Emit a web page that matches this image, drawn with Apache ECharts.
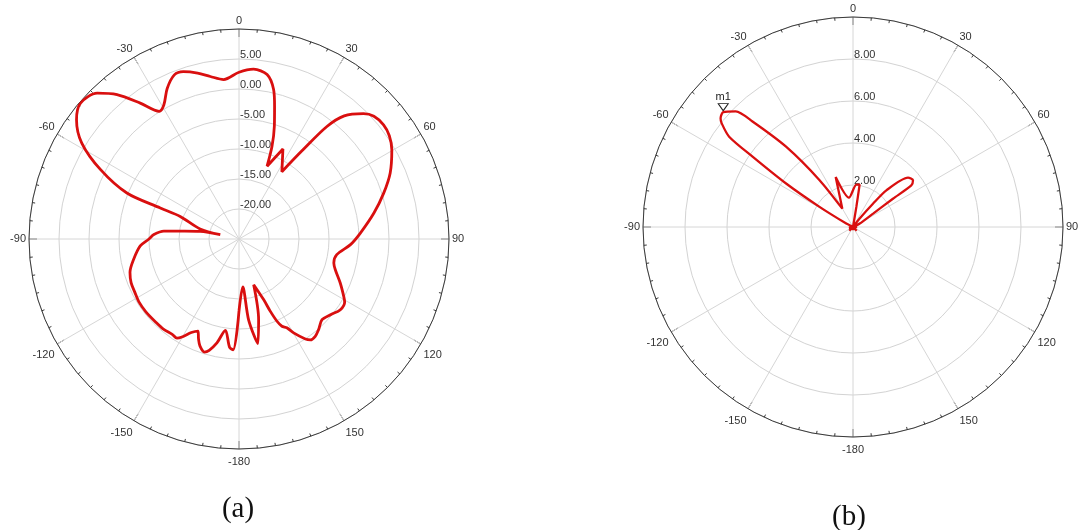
<!DOCTYPE html>
<html><head><meta charset="utf-8">
<script src="https://cdn.jsdelivr.net/npm/echarts@6/dist/echarts.min.js"></script>
<style>html,body{margin:0;padding:0;background:#fff}#c{width:1079px;height:530px}</style>
</head><body><div id="c"></div>
<script>
// ---- data (angles in degrees, clockwise from top; values in dB) ----
const anglesA = [-180,-177,-175,-171.5,-168,-165,-163,-160,-158,-156,-153,-150,-148,-145,-140,-135,-128,-122,-117,-112,-107,-101,-94,-90,-87,-84,-82.5,-79,-77,-75.5,-69,-68.5,-67.7,-63.4,-58.6,-53.7,-49.4,-44.2,-40.2,-36,-32,-29.3,-25.5,-21.5,-18.4,-14,-10,-5.5,0,4.9,9.7,13,15,17.4,19.6,21.1,26,32.5,35.5,38,40.5,44.8,47.7,51.7,55.5,59.7,66.4,72.4,79.1,87.2,92.9,99.1,104.2,107.7,113.5,118.7,120.8,124.9,129.6,134.2,138.7,141.9,144.7,146.4,149.8,151.7,153.8,155.2,156.6,157.9,162.2,166.3,169.8,173.2,175.5,180];
const gainA   = [-13.0,-6.5,-6.9,-9.6,-7.3,-5.8,-5.3,-6.0,-7.0,-8.2,-7.5,-6.2,-5.5,-5.6,-5.4,-5.4,-5.3,-5.3,-5.5,-5.6,-6.0,-7.1,-8.5,-10.0,-10.8,-12.4,-15.0,-18.4,-21.8,-18.3,-14.5,-10.9,-4.8,0.8,5.7,8.6,9.8,8.9,6.5,3.0,0.1,0.6,2.8,4.4,4.4,3.5,2.5,1.7,2.8,3.4,2.8,0.6,-2.1,-5.3,-8.6,-12.0,-8.3,-11.7,-7.0,-1.2,2.0,4.45,5.4,5.7,5.4,4.5,2.5,0.3,-2.1,-4.75,-6.4,-8.5,-8.7,-8.15,-6.6,-5.1,-4.5,-4.4,-5.2,-5.7,-4.9,-4.4,-4.4,-5.0,-6.9,-8.2,-8.8,-9.9,-11.9,-14.1,-17.0,-11.2,-7.3,-11.4,-17.0,-13.0];

const anglesB = [-180,-150,-135,-120,-100,-90,-75,-63,-59,-57,-55,-53.9,-51.7,-50.6,-48.5,-45.4,-43.6,-39.8,-35.5,-30.2,-19.1,-7.8,4.5,8.9,9.5,12,25,38,40.6,42.3,48.1,52.1,54.5,54.7,56.3,63,75,90,110,135,160,180];
const gainB   = [0.15,0,0.25,0,0.2,0,0,0.36,1.86,3.8,5.84,7.3,7.97,8.16,8.25,7.84,6.94,4.98,2.74,1.01,2.52,1.41,2.02,2.04,0.97,0,0,0.5,1.46,2.36,3.52,3.62,3.41,2.33,1.15,0.36,0,0.2,0,0.25,0,0.15];

const radiusTicksA = [-25,-20,-15,-10,-5,0,5,10];
const radiusTicksB = [0,2,4,6,8,10];
const angleTickStep = 30;
const markerB = { name: 'm1', angle: -48.5, value: 8.25 };
const captions = ['(a)', '(b)'];

// ---- build ----
const toAxisAngle = a => (a < 0 ? a + 360 : a);
const FONT = "'Liberation Sans', Arial, sans-serif";
const RED = '#d90f0f';

function angleAxis(idx) {
  return {
    polarIndex: idx, type: 'value', min: 0, max: 360, interval: angleTickStep,
    startAngle: 90, clockwise: true,
    axisLine: { show: true, lineStyle: { color: '#3a3a3a', width: 1 } },
    axisTick: { show: true, inside: true, length: 8, lineStyle: { color: '#3a3a3a' } },
    minorTick: { show: true, splitNumber: 6, length: 3, lineStyle: { color: '#3a3a3a' } },
    splitLine: { show: true, lineStyle: { color: '#d6d6d6', width: 1 } },
    axisLabel: {
      show: true, margin: 3, padding: [4, 0, 0, 0], fontSize: 11, color: '#333', fontFamily: FONT,
      formatter: v => String(v >= 180 ? v - 360 : v)
    }
  };
}
function radiusAxis(idx, ticks) {
  return {
    polarIndex: idx, type: 'value', min: ticks[0], max: ticks[ticks.length - 1],
    interval: ticks[1] - ticks[0],
    axisLine: { show: false }, axisTick: { show: false },
    splitLine: { show: true, lineStyle: { color: '#d3d3d3', width: 1 } },
    axisLabel: {
      show: true, showMinLabel: false, showMaxLabel: false,
      margin: -1, align: 'left', verticalAlign: 'bottom', lineHeight: 8,
      fontSize: 11, color: '#333', fontFamily: FONT,
      formatter: v => Number(v).toFixed(2)
    }
  };
}

const dataA = anglesA.map((a, i) => [gainA[i], toAxisAngle(a)]);
const dataB = anglesB.map((a, i) => [gainB[i], toAxisAngle(a)]);

const chart = echarts.init(document.getElementById('c'), null, { renderer: 'canvas' });
chart.setOption({
  animation: false,
  backgroundColor: '#fff',
  textStyle: { fontFamily: FONT },
  polar: [
    { center: [239, 239], radius: 210 },
    { center: [853, 227], radius: 210 }
  ],
  angleAxis: [angleAxis(0), angleAxis(1)],
  radiusAxis: [radiusAxis(0, radiusTicksA), radiusAxis(1, radiusTicksB)],
  series: [
    {
      type: 'line', coordinateSystem: 'polar', polarIndex: 0, data: dataA,
      showSymbol: false, smooth: 0.3,
      lineStyle: { color: RED, width: 2.8 }, z: 5
    },
    {
      type: 'line', coordinateSystem: 'polar', polarIndex: 1, data: dataB,
      showSymbol: false, smooth: 0.25,
      lineStyle: { color: RED, width: 2.3 }, z: 5,
      markPoint: {
        symbol: 'triangle', symbolRotate: 180, symbolSize: [10, 7], symbolOffset: [0, -5],
        itemStyle: { color: '#fff', borderColor: '#222', borderWidth: 1 },
        label: { show: true, position: 'top', distance: 1, formatter: markerB.name, color: '#222', fontSize: 11, fontFamily: FONT },
        data: [{ coord: [markerB.value, toAxisAngle(markerB.angle)] }]
      }
    }
  ],
  graphic: [
    { type: 'text', x: 238, y: 509, style: { text: captions[0], align: 'center', verticalAlign: 'middle', font: "29px 'Liberation Serif', 'DejaVu Serif', serif", fill: '#111' } },
    { type: 'text', x: 849, y: 517, style: { text: captions[1], align: 'center', verticalAlign: 'middle', font: "29px 'Liberation Serif', 'DejaVu Serif', serif", fill: '#111' } }
  ]
});
</script>
</body></html>
